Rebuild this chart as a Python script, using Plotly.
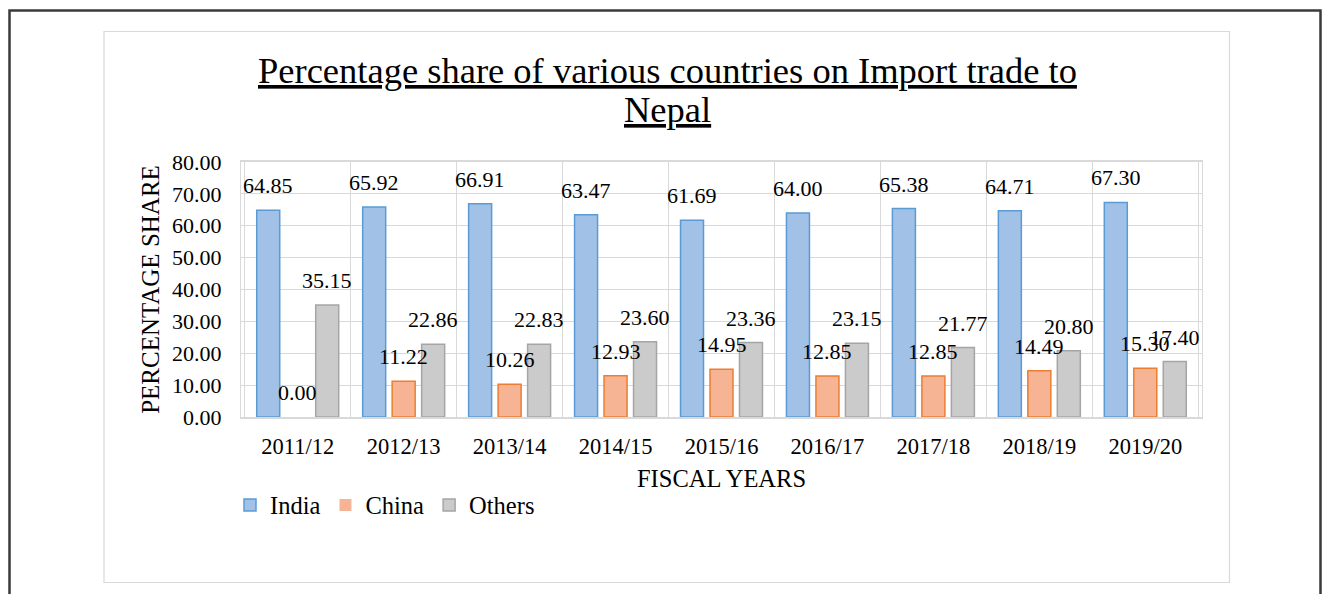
import plotly.graph_objects as go

# Import share (%) by fiscal year
years = ["2011/12", "2012/13", "2013/14", "2014/15", "2015/16",
         "2016/17", "2017/18", "2018/19", "2019/20"]
india = [64.85, 65.92, 66.91, 63.47, 61.69, 64.00, 65.38, 64.71, 67.30]
china = [0.00, 11.22, 10.26, 12.93, 14.95, 12.85, 12.85, 14.49, 15.30]
others = [35.15, 22.86, 22.83, 23.60, 23.36, 23.15, 21.77, 20.80, 17.40]
y_ticks = [0, 10, 20, 30, 40, 50, 60, 70, 80]

FONT = "Liberation Serif, Times New Roman, serif"
W, H = 1322, 594
ML, MR, MT, MB = 241, 120, 162, 177
PLOT_W = W - ML - MR
PLOT_H = H - MT - MB
BARGAP = 0.165
GROUPGAP = 0.22
GRID = "#d9d9d9"


def px_x(p):
    """Pixel column -> paper x."""
    return (p - ML) / PLOT_W


def px_y(p):
    """Pixel row -> paper y."""
    return (H - MB - p) / PLOT_H


series = [
    ("India", india, "#a1c1e7", "#5b9bd5"),
    ("China", china, "#f6b495", "#ed7d31"),
    ("Others", others, "#cbcbcb", "#a5a5a5"),
]

fig = go.Figure()
for name, vals, fill, edge in series:
    fig.add_trace(go.Bar(
        x=years, y=vals, name=name,
        marker=dict(color=fill,
                    line=dict(color=edge,
                              width=[0 if v == 0 else 1.5 for v in vals])),
        hoverinfo="x+y+name",
    ))

# value labels above each bar
slot = PLOT_W / len(years) * (1 - BARGAP) / len(series)
annotations = []
for k, (name, vals, fill, edge) in enumerate(series):
    for yr, v in zip(years, vals):
        annotations.append(dict(
            x=yr, y=v, xref="x", yref="y", text=f"{v:.2f}",
            showarrow=False, xanchor="center", yanchor="bottom",
            xshift=(k - 1) * slot, yshift=10,
            font=dict(family=FONT, size=22, color="black"),
        ))

# two-line underlined title
annotations.append(dict(
    x=px_x(667), y=px_y(71), xref="paper", yref="paper",
    text="<u>Percentage share of various countries on Import trade to</u>",
    showarrow=False, xanchor="center", yanchor="middle",
    font=dict(family=FONT, size=36.5, color="black"),
))
annotations.append(dict(
    x=px_x(667), y=px_y(109), xref="paper", yref="paper",
    text="<u>Nepal</u>",
    showarrow=False, xanchor="center", yanchor="middle",
    font=dict(family=FONT, size=36.5, color="black"),
))

shapes = [
    # outer frame
    dict(type="rect", xref="paper", yref="paper",
         x0=px_x(9.5), x1=px_x(1320.5), y0=px_y(640), y1=px_y(10.5),
         line=dict(color="#3a3a3a", width=2.5), layer="below"),
    # chart area frame
    dict(type="rect", xref="paper", yref="paper",
         x0=px_x(104), x1=px_x(1229.5), y0=px_y(582.5), y1=px_y(31.5),
         line=dict(color=GRID, width=1.2), layer="below"),
]

fig.update_layout(
    width=W, height=H,
    margin=dict(l=ML, r=MR, t=MT, b=MB, pad=0),
    paper_bgcolor="white", plot_bgcolor="white",
    barmode="group", bargap=BARGAP, bargroupgap=GROUPGAP,
    font=dict(family=FONT, color="black"),
    showlegend=True,
    legend=dict(
        orientation="h", x=px_x(230), y=px_y(505),
        xanchor="left", yanchor="middle",
        font=dict(family=FONT, size=24.5, color="black"),
        bgcolor="rgba(0,0,0,0)", traceorder="normal",
        itemwidth=30,
    ),
    annotations=annotations,
    shapes=shapes,
)

fig.update_xaxes(
    type="category", tickson="boundaries", ticks="",
    showgrid=True, gridcolor=GRID, gridwidth=1.3,
    showline=True, linecolor=GRID, linewidth=1.5, mirror=True,
    tickfont=dict(family=FONT, size=22.5, color="black"),
    ticklabelstandoff=8,
    title=dict(text="FISCAL YEARS", standoff=12,
               font=dict(family=FONT, size=24.5, color="black")),
)
fig.update_yaxes(
    range=[0, 80], tickvals=y_ticks, tickformat=".2f", ticks="",
    showgrid=True, gridcolor=GRID, gridwidth=1.3, zeroline=False,
    showline=True, linecolor=GRID, linewidth=1.3, mirror=True,
    tickfont=dict(family=FONT, size=22, color="black"),
    ticklabelstandoff=14,
    title=dict(text="PERCENTAGE SHARE", standoff=5,
               font=dict(family=FONT, size=25, color="black")),
)

fig.write_html("out.html")
